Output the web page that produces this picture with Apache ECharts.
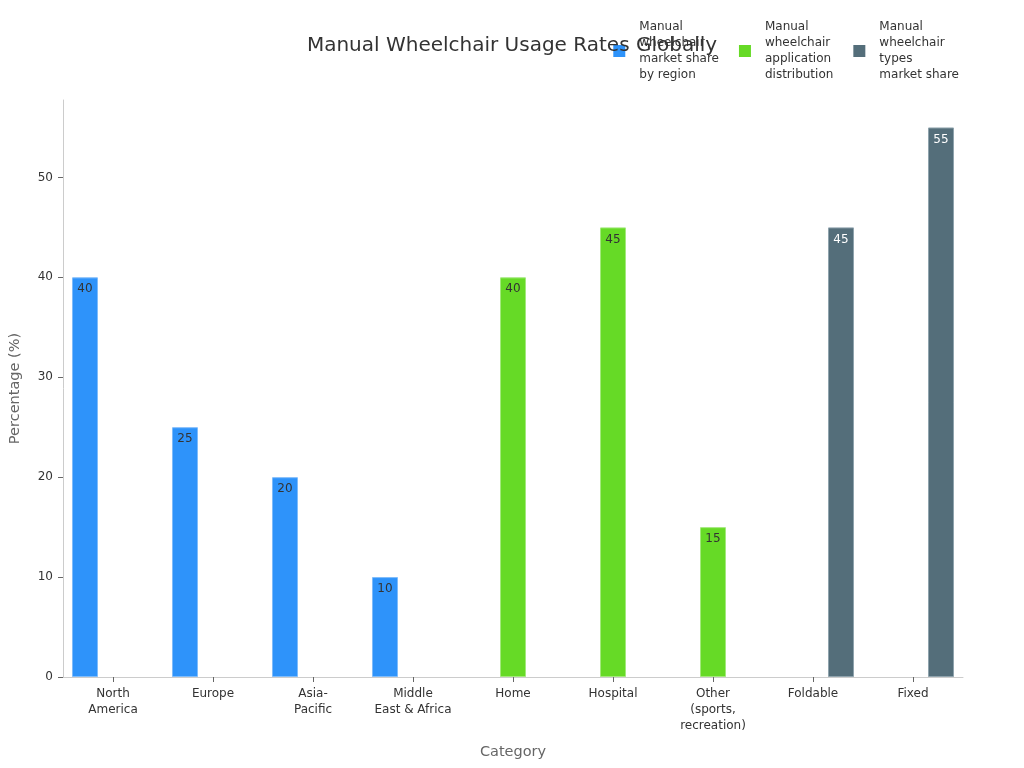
<!DOCTYPE html>
<html>
<head>
<meta charset="utf-8">
<script src="https://cdn.jsdelivr.net/npm/echarts@6/dist/echarts.min.js"></script>
<style>html,body{margin:0;padding:0;background:#fff}#c{width:1024px;height:768px}</style>
</head>
<body>
<div id="c"></div>
<script>
const categories = ['North America','Europe','Asia-Pacific','Middle East & Africa','Home','Hospital','Other (sports, recreation)','Foldable','Fixed'];
const tickLabels = ['North\nAmerica','Europe','Asia-\nPacific','Middle\nEast & Africa','Home','Hospital','Other\n(sports,\nrecreation)','Foldable','Fixed'];
const seriesNames = ['Manual wheelchair market share by region','Manual wheelchair application distribution','Manual wheelchair types market share'];
const legendLabels = ['Manual\nwheelchair\nmarket share\nby region','Manual\nwheelchair\napplication\ndistribution','Manual\nwheelchair\ntypes\nmarket share'];
const regionValues = [40, 25, 20, 10, null, null, null, null, null];
const applicationValues = [null, null, null, null, 40, 45, 15, null, null];
const typeValues = [null, null, null, null, null, null, null, 45, 55];
const yTicks = [0, 10, 20, 30, 40, 50];
const colors = ['#2E93FA', '#66DA26', '#546E7A'];
const borders = ['#7fbcfb', '#a3e97c', '#8fa3ad'];
const labelColors = ['#333', '#333', '#fff'];

const chart = echarts.init(document.getElementById('c'), null, {renderer: 'canvas'});
const fontFamily = 'DejaVu Sans';
const allValues = [regionValues, applicationValues, typeValues];
chart.setOption({
  textStyle: {fontFamily},
  title: {
    text: 'Manual Wheelchair Usage Rates Globally',
    left: 'center', top: 36, padding: 0,
    textStyle: {fontSize: 20, fontWeight: 'normal', color: '#333', fontFamily}
  },
  legend: {
    right: 60, top: 14,
    icon: 'rect', itemWidth: 12, itemHeight: 12, itemGap: 20,
    itemStyle: {borderWidth: 0},
    formatter: name => legendLabels[seriesNames.indexOf(name)],
    textStyle: {fontSize: 12, color: '#333', lineHeight: 16, padding: [0, 0, 0, 9], fontFamily}
  },
  grid: {left: 61, right: 61, top: 100, bottom: 91, containLabel: false},
  xAxis: {
    type: 'category', data: categories,
    name: 'Category', nameLocation: 'middle', nameGap: 68,
    nameTextStyle: {fontSize: 14.5, color: '#666', fontFamily},
    axisLine: {lineStyle: {color: '#ccc'}},
    axisTick: {show: true, alignWithLabel: true, length: 5, lineStyle: {color: '#666'}},
    axisLabel: {formatter: (v, i) => tickLabels[i], fontSize: 12, color: '#333', lineHeight: 16, interval: 0, margin: 9, fontFamily}
  },
  yAxis: {
    type: 'value', min: 0, max: 57.75,
    name: 'Percentage (%)', nameLocation: 'middle', nameGap: 40,
    nameTextStyle: {fontSize: 14.5, color: '#666', fontFamily},
    axisLine: {show: true, lineStyle: {color: '#ccc'}},
    axisTick: {show: true, length: 5, customValues: yTicks, lineStyle: {color: '#666'}},
    axisLabel: {customValues: yTicks, fontSize: 12, color: '#333', margin: 10, fontFamily},
    splitLine: {show: false}
  },
  series: seriesNames.map((name, k) => ({
    name, type: 'bar', data: allValues[k],
    barWidth: 26, barGap: '7.7%', barCategoryGap: '18%',
    itemStyle: {color: colors[k], borderColor: borders[k], borderWidth: 1},
    label: {show: true, position: 'insideTop', distance: 6, color: labelColors[k], fontSize: 12, fontFamily},
    emphasis: {disabled: true}
  }))
});
</script>
</body>
</html>
